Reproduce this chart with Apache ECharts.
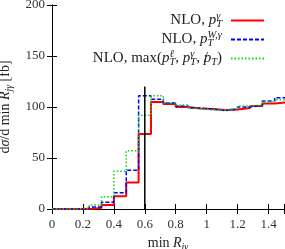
<!DOCTYPE html>
<html><head><meta charset="utf-8">
<script src="https://cdn.jsdelivr.net/npm/echarts@6/dist/echarts.min.js"></script>
<style>html,body{margin:0;padding:0;background:#fff}#c{width:285px;height:249px}</style>
</head><body><div id="c"></div>
<script>
// bin edges of the histogram (min R_{jγ})
const binEdges = [0,0.08,0.16,0.24,0.32,0.40,0.48,0.56,0.64,0.72,0.80,0.88,0.96,1.04,1.12,1.20,1.28,1.36,1.44,1.52];
// dσ/d min R [fb] per bin
const nloPtGamma  = [0,0,0,1,4,12.5,26,73.5,105,103,100,98.5,98,97,97.5,99,101,103.5,104.5];
const nloPtWGamma = [0,0,0,2,6.5,16,38,111,107.5,104,101,99,98,96.5,98,100,101.5,106,109];
const nloMaxPt    = [0,0,1,4,12,37,57,92,111,104,102,98.5,97,97,98.5,101,102,105,107];
// vertical cut line
const cutLineX = [0.6, 0.6];
const cutLineY = [0, 120];
const xTicks = [0,0.2,0.4,0.6,0.8,1,1.2,1.4];
const yTicks = [0,50,100,150,200];

function steps(vals){
  const pts = vals.map((v,i)=>[binEdges[i], v]);
  pts.push([binEdges[binEdges.length-1], vals[vals.length-1]]);
  return pts;
}
const F = 'Liberation Serif';
const C = '#222';
const base = {fontFamily:F,color:C,align:'left'};
function mk(size, lh){
  return {
    n:Object.assign({fontSize:size,lineHeight:lh},base),
    i:Object.assign({fontSize:size,fontStyle:'italic',lineHeight:lh},base),
    sl0:Object.assign({fontSize:size,lineHeight:lh,width:0.01},base),
    g:Object.assign({fontSize:size,lineHeight:lh,width:4},base),
    sb:Object.assign({fontSize:size*0.7,fontStyle:'italic',verticalAlign:'bottom',lineHeight:lh*0.55},base),
    sb0:Object.assign({fontSize:size*0.7,fontStyle:'italic',verticalAlign:'bottom',lineHeight:lh*0.55,width:0.01},base),
    sp:Object.assign({fontSize:size*0.7,fontStyle:'italic',verticalAlign:'top',lineHeight:lh*0.55},base),
    sp0:Object.assign({fontSize:size*0.7,fontStyle:'italic',verticalAlign:'top',lineHeight:lh*0.55,width:0.01},base)
  };
}
const richLegend = mk(15, 19);
const richAxis = mk(14, 19);
const names = ['NLO, pTγ','NLO, pTWγ','NLO, max'];
const labels = {
  'NLO, pTγ':'{n|NLO, }{i|p}{sp0|γ}{sb|T}{g| }',
  'NLO, pTWγ':'{n|NLO, }{i|p}{sb0|T}{sp|W,γ}{g| }',
  'NLO, max':'{n|NLO, max(}{i|p}{sp0|ℓ}{sb|T}{n|, }{i|p}{sp0|γ}{sb|T}{n|, }{sl0|/}{i|p}{sb|T}{n|)}{g| }'
};
const axisText = {fontFamily:F,fontSize:13,color:'#333'};
const chart = echarts.init(document.getElementById('c'));
chart.setOption({
  animation:false,
  grid:{left:52,right:1,top:5,bottom:40,containLabel:false,outerBoundsMode:'none'},
  legend:{
    data:names, orient:'vertical', align:'right', right:20, top:11,
    itemWidth:33, itemHeight:10, itemGap:0, padding:0,
    itemStyle:{opacity:0},
    formatter:n=>labels[n],
    textStyle:{rich:richLegend}
  },
  xAxis:[{
    type:'value',min:0,max:1.5,interval:0.2,
    name:'{n|min }{i|R}{sb|jγ}',nameLocation:'middle',nameGap:20,
    nameTextStyle:{rich:richAxis},
    axisLine:{lineStyle:{color:'#000',width:1}},
    axisTick:{inside:true,length:5,lineStyle:{color:'#000'}},
    axisLabel:Object.assign({margin:9,formatter:v=>xTicks.some(t=>Math.abs(t-v)<1e-6)?String(+v.toFixed(1)):''},axisText),
    splitLine:{show:false}
  },{
    type:'value',min:0,max:1.5,interval:0.2,position:'top',
    axisLine:{lineStyle:{color:'#000'}},
    axisTick:{inside:true,length:5,lineStyle:{color:'#000'}},
    axisLabel:{show:false},splitLine:{show:false}
  }],
  yAxis:[{
    type:'value',min:0,max:200,interval:50,
    name:'{n|d}{i|σ}{n|/d min }{i|R}{sb|jγ}{n| [fb]}',nameLocation:'middle',nameRotate:90,nameGap:36,
    nameTextStyle:{rich:richAxis},
    axisLine:{lineStyle:{color:'#000'}},
    axisTick:{inside:true,length:5,lineStyle:{color:'#000'}},
    axisLabel:Object.assign({margin:7,formatter:v=>yTicks.includes(v)?String(v):''},axisText),
    splitLine:{show:false}
  },{
    type:'value',min:0,max:200,interval:50,position:'right',
    axisLine:{lineStyle:{color:'#000'}},
    axisTick:{inside:true,length:5,lineStyle:{color:'#000'}},
    axisLabel:{show:false},splitLine:{show:false}
  }],
  series:[
    {name:names[0],type:'line',step:'end',symbol:'none',data:steps(nloPtGamma),
     lineStyle:{color:'#ff0000',width:2},itemStyle:{color:'#ff0000'},z:2},
    {name:names[1],type:'line',step:'end',symbol:'none',data:steps(nloPtWGamma),
     lineStyle:{color:'#0000ff',width:1.5,type:[4,2]},itemStyle:{color:'#0000ff'},z:3},
    {name:names[2],type:'line',step:'end',symbol:'none',data:steps(nloMaxPt),
     lineStyle:{color:'#00dd00',width:1.5,type:[1.5,2]},itemStyle:{color:'#00dd00'},z:4},
    {name:'cut',type:'line',symbol:'none',data:cutLineX.map((x,i)=>[x,cutLineY[i]]),
     lineStyle:{color:'#000',width:1.5},z:5}
  ]
});
</script></body></html>
